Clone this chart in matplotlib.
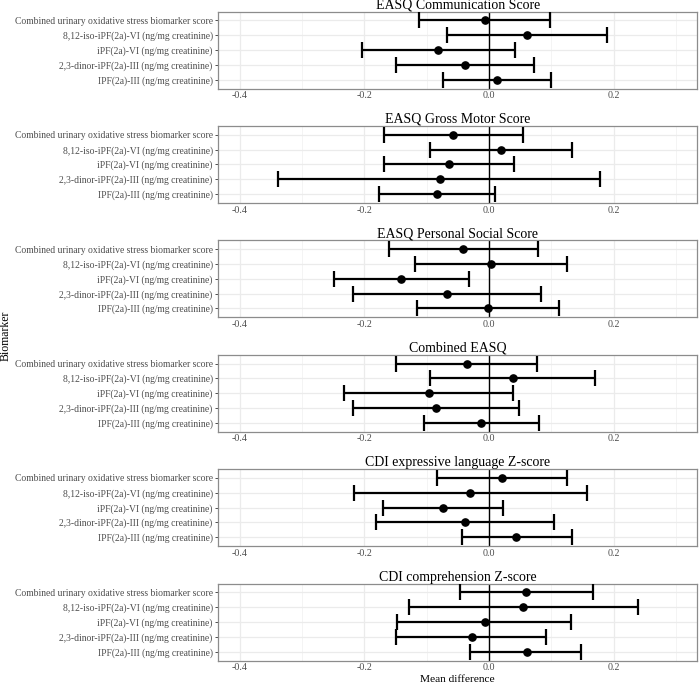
import numpy as np
import matplotlib
matplotlib.use("Agg")
import matplotlib.pyplot as plt
from matplotlib.ticker import MultipleLocator

plt.rcParams['font.family'] = ['Liberation Serif', 'DejaVu Serif']

# Biomarkers (top to bottom in each panel)
biomarkers = [
    "Combined urinary oxidative stress biomarker score",
    "8,12-iso-iPF(2a)-VI (ng/mg creatinine)",
    "iPF(2a)-VI (ng/mg creatinine)",
    "2,3-dinor-iPF(2a)-III (ng/mg creatinine)",
    "IPF(2a)-III (ng/mg creatinine)",
]

titles = [
    "EASQ Communication Score",
    "EASQ Gross Motor Score",
    "EASQ Personal Social Score",
    "Combined EASQ",
    "CDI expressive language Z-score",
    "CDI comprehension Z-score",
]

# Mean differences with 95% CI
comm_mean = [-0.007, 0.061, -0.082, -0.039, 0.013]
comm_lo = [-0.112, -0.067, -0.204, -0.149, -0.073]
comm_hi = [0.098, 0.189, 0.042, 0.072, 0.100]

motor_mean = [-0.057, 0.019, -0.064, -0.079, -0.083]
motor_lo = [-0.169, -0.094, -0.168, -0.338, -0.177]
motor_hi = [0.055, 0.133, 0.040, 0.179, 0.010]

social_mean = [-0.042, 0.004, -0.141, -0.067, -0.002]
social_lo = [-0.161, -0.119, -0.249, -0.218, -0.115]
social_hi = [0.078, 0.126, -0.032, 0.084, 0.112]

easq_mean = [-0.036, 0.038, -0.097, -0.085, -0.012]
easq_lo = [-0.149, -0.095, -0.233, -0.218, -0.105]
easq_hi = [0.077, 0.171, 0.038, 0.049, 0.081]

expr_mean = [0.021, -0.030, -0.074, -0.039, 0.044]
expr_lo = [-0.083, -0.217, -0.170, -0.182, -0.044]
expr_hi = [0.126, 0.157, 0.022, 0.105, 0.134]

comp_mean = [0.060, 0.055, -0.007, -0.028, 0.061]
comp_lo = [-0.047, -0.128, -0.147, -0.149, -0.030]
comp_hi = [0.167, 0.239, 0.132, 0.092, 0.147]

means = [comm_mean, motor_mean, social_mean, easq_mean, expr_mean, comp_mean]
lows = [comm_lo, motor_lo, social_lo, easq_lo, expr_lo, comp_lo]
highs = [comm_hi, motor_hi, social_hi, easq_hi, expr_hi, comp_hi]

W, H = 700, 685
fig = plt.figure(figsize=(W / 100, H / 100), dpi=100)

left_px, right_px = 218.3, 697.3
panel_h = 77.0
step = 114.4
top0 = 11.5

ypos = np.arange(len(biomarkers))

for i, title in enumerate(titles):
    top = top0 + i * step
    ax = fig.add_axes([left_px / W, 1 - (top + panel_h) / H,
                       (right_px - left_px) / W, panel_h / H])
    m = np.array(means[i])
    lo = np.array(lows[i])
    hi = np.array(highs[i])

    # grid like ggplot theme_bw
    ax.xaxis.set_major_locator(MultipleLocator(0.2))
    ax.xaxis.set_minor_locator(MultipleLocator(0.1))
    ax.grid(True, which='major', color='#EBEBEB', lw=0.9)
    ax.grid(True, which='minor', axis='x', color='#F2F2F2', lw=0.6)
    ax.set_axisbelow(True)

    ax.axvline(0, color='black', lw=1.0, zorder=2)
    ax.errorbar(m, ypos, xerr=[m - lo, hi - m], fmt='o', color='black',
                ms=5.2, elinewidth=1.6, capsize=5.5, capthick=1.6, zorder=3)

    ax.set_xlim(-0.4345, 0.3345)
    ax.set_ylim(len(biomarkers) - 0.4, -0.6)
    ax.set_yticks(ypos)
    ax.set_yticklabels(biomarkers)
    ax.set_xticks([-0.4, -0.2, 0.0, 0.2])
    ax.set_xticklabels(["-0.4", "-0.2", "0.0", "0.2"])
    ax.tick_params(axis='y', length=2.5, width=0.6, color='#333333',
                   labelsize=6.9, labelcolor='#4D4D4D', pad=1.5)
    ax.tick_params(axis='x', which='both', length=0, labelsize=7.2,
                   labelcolor='#4D4D4D', pad=2)
    for s in ax.spines.values():
        s.set_color('#8C8C8C')
        s.set_linewidth(0.9)
    ax.set_title(title, fontsize=10, pad=0.8, x=0.5)

fig.text(6 / W, 1 - 336 / H, "Biomarker", rotation=90, fontsize=8.5,
         ha='center', va='center')
fig.text((left_px + right_px) / 2 / W, 1.5 / H, "Mean difference",
         fontsize=8.2, ha='center', va='bottom')

fig.savefig("out.png", dpi=100)
